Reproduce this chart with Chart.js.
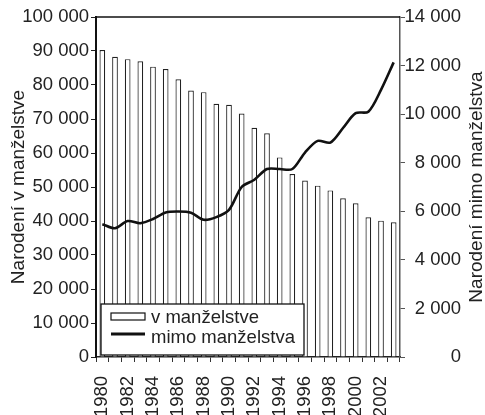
<!DOCTYPE html>
<html><head><meta charset="utf-8">
<script src="https://cdn.jsdelivr.net/npm/chart.js@4/dist/chart.umd.min.js"></script>
<style>html,body{margin:0;padding:0;background:#fff;}</style>
</head><body>
<canvas id="c" width="485" height="415"></canvas>
<script>
const years = [1980,1981,1982,1983,1984,1985,1986,1987,1988,1989,1990,1991,1992,1993,1994,1995,1996,1997,1998,1999,2000,2001,2002,2003];
const inMarriage = [90300,88300,87600,87000,85400,84700,81700,78400,77900,74500,74200,71600,67400,65800,58700,53800,51900,50400,49000,46700,45200,41100,40100,39600];
const outMarriage = [5470,5300,5600,5510,5680,5950,5990,5940,5650,5760,6060,7000,7300,7740,7740,7740,8420,8900,8830,9430,10040,10100,11000,12130];
const seriesNames = ['v manželstve','mimo manželstva'];
const leftTitle = 'Narodení v manželstve';
const rightTitle = 'Narodení mimo manželstva';

const FONT = "'Liberation Sans',Arial,sans-serif";
const fmt = v => String(v).replace(/\B(?=(\d{3})+(?!\d))/g, ' ');

const decor = {
  id: 'decor',
  afterDraw(chart) {
    const {ctx, chartArea: a} = chart;
    ctx.save();
    // top frame line
    ctx.strokeStyle = '#111'; ctx.lineWidth = 1.5;
    ctx.beginPath(); ctx.moveTo(a.left - 1, a.top); ctx.lineTo(a.right, a.top); ctx.stroke();
    // legend box
    const bx = 101, by = 304, bw = 203, bh = 51;
    ctx.fillStyle = '#fff'; ctx.fillRect(bx, by, bw, bh);
    ctx.strokeStyle = '#111'; ctx.lineWidth = 1.3; ctx.strokeRect(bx, by, bw, bh);
    ctx.fillStyle = '#fff'; ctx.fillRect(111, 313, 34, 7);
    ctx.lineWidth = 1.2; ctx.strokeRect(111, 313, 34, 7);
    ctx.lineWidth = 3; ctx.beginPath(); ctx.moveTo(111, 334); ctx.lineTo(145, 334); ctx.stroke();
    ctx.fillStyle = '#222'; ctx.font = '18.5px ' + FONT; ctx.textBaseline = 'alphabetic'; ctx.textAlign = 'left';
    ctx.fillText(seriesNames[0], 151, 323);
    ctx.fillText(seriesNames[1], 151, 343);
    // right title, reading bottom to top
    ctx.translate(477, 187); ctx.rotate(-Math.PI / 2);
    ctx.font = '19px ' + FONT; ctx.textAlign = 'center'; ctx.textBaseline = 'middle';
    ctx.fillText(rightTitle, 0, 0);
    ctx.restore();
  }
};

new Chart(document.getElementById('c'), {
  data: {
    labels: years,
    datasets: [
      { type: 'line', label: seriesNames[1], data: outMarriage, yAxisID: 'y2', borderColor: '#111', borderWidth: 2.6, pointRadius: 0, tension: 0.3, order: 1 },
      { type: 'bar', label: seriesNames[0], data: inMarriage, yAxisID: 'y', backgroundColor: '#fff', borderColor: '#222', borderWidth: 1.2, barPercentage: 0.45, categoryPercentage: 1, order: 2 }
    ]
  },
  options: {
    responsive: false, animation: false, devicePixelRatio: 1,
    layout: { padding: { top: 17, left: 0, right: 24, bottom: 0 } },
    plugins: { legend: { display: false }, tooltip: { enabled: false } },
    scales: {
      x: {
        type: 'category', offset: true,
        grid: { offset: true, drawOnChartArea: false, tickLength: 5, color: '#333', tickWidth: 1 },
        border: { color: '#222', width: 1.5 },
        ticks: { autoSkip: false, minRotation: 90, maxRotation: 90, padding: 14, color: '#222', font: { family: FONT, size: 18.5 },
          callback: (v, i) => years[i] % 2 === 0 ? String(years[i]) : '' },
        afterFit: s => { s.height = 58; }
      },
      y: {
        position: 'left', min: 0, max: 100000,
        grid: { drawOnChartArea: false, tickLength: 5, color: '#222' },
        border: { color: '#111', width: 2 },
        ticks: { stepSize: 10000, padding: 2, color: '#222', font: { family: FONT, size: 18.5 }, callback: v => fmt(v) },
        title: { display: true, text: leftTitle, color: '#222', font: { family: FONT, size: 19 }, padding: { top: 7, bottom: 0 } },
        afterFit: s => { s.width = 96; }
      },
      y2: {
        position: 'right', min: 0, max: 14000,
        grid: { drawOnChartArea: false, tickLength: 5, color: '#555' },
        border: { color: '#555', width: 1.5 },
        ticks: { stepSize: 2000, padding: 3, crossAlign: 'far', color: '#222', font: { family: FONT, size: 18.5 }, callback: v => fmt(v) },
        afterFit: s => { s.width = 61; }
      }
    }
  },
  plugins: [decor]
});
</script>
</body></html>
